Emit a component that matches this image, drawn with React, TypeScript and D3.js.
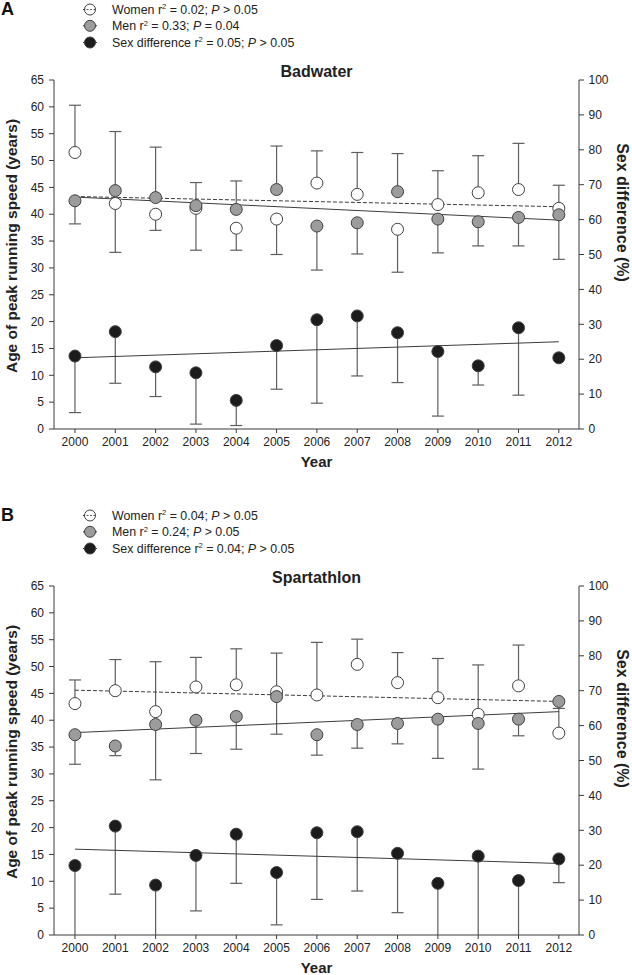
import React from "react";
import * as d3 from "d3";

const years = [2000, 2001, 2002, 2003, 2004, 2005, 2006, 2007, 2008, 2009, 2010, 2011, 2012];
const leftTicks = d3.range(0, 66, 5);
const rightTicks = d3.range(0, 101, 10);

// Badwater
const badwaterWomen = [51.5, 42.0, 40.0, 41.1, 37.4, 39.1, 45.8, 43.7, 37.2, 41.8, 44.0, 44.6, 41.1];
const badwaterWomenSD = [8.8, -9.1, -3.0, -7.8, -4.1, -6.6, 6.0, 7.8, -8.0, 6.3, 6.9, 8.6, 4.3];
const badwaterMen = [42.5, 44.4, 43.1, 41.6, 40.9, 44.6, 37.8, 38.4, 44.2, 39.1, 38.6, 39.4, 39.9];
const badwaterMenSD = [-4.3, 11.0, 9.4, 4.3, 5.3, 8.1, -8.2, -5.8, 7.1, -6.3, -4.5, -5.3, -8.3];
const badwaterDiff = [20.9, 27.9, 17.8, 16.1, 8.2, 23.9, 31.3, 32.4, 27.6, 22.2, 18.1, 29.0, 20.4];
const badwaterDiffSD = [-16.2, -14.8, -8.5, -14.7, -7.2, -12.5, -23.9, -17.2, -14.3, -18.5, -5.5, -19.3, 0];
const badwaterWomenTrend = [43.3, 41.4];
const badwaterMenTrend = [43.2, 38.9];
const badwaterDiffTrend = [20.4, 25.0];

// Spartathlon
const spartaWomen = [43.1, 45.5, 41.6, 46.2, 46.6, 45.3, 44.7, 50.4, 47.0, 44.2, 41.1, 46.4, 37.6];
const spartaWomenSD = [4.4, 5.8, 9.3, 5.5, 6.7, 7.2, 9.8, 4.7, 5.6, 7.3, 9.2, 7.6, 4.6];
const spartaMen = [37.3, 35.2, 39.2, 40.0, 40.7, 44.4, 37.3, 39.2, 39.4, 40.2, 39.4, 40.2, 43.5];
const spartaMenSD = [-5.5, -1.8, -10.3, -6.2, -6.1, -7.0, -3.8, -4.4, -3.8, -7.3, -8.5, -3.1, 0];
const spartaDiff = [19.9, 31.2, 14.3, 22.8, 28.9, 17.9, 29.3, 29.6, 23.4, 14.8, 22.6, 15.6, 21.8];
const spartaDiffSD = [-21.0, -19.5, -16.0, -15.9, -14.1, -15.0, -19.1, -17.0, -17.0, -16.0, -24.0, -17.0, -6.8];
const spartaWomenTrend = [45.6, 43.5];
const spartaMenTrend = [37.7, 41.6];
const spartaDiffTrend = [24.6, 20.5];

const FONT = "'Liberation Sans', Arial, Helvetica, sans-serif";
const AXIS = "#3a3a3a";
const BAR = "#5e5e5e";
const MEN_FILL = "#9c9c9c";
const DIFF_FILL = "#1c1c1c";

type PanelProps = {
  top: number;
  letter: string;
  title: string;
  legend: string[][];
  women: number[]; womenSD: number[];
  men: number[]; menSD: number[];
  diff: number[]; diffSD: number[];
  womenTrend: number[]; menTrend: number[]; diffTrend: number[];
};

const X0 = 54;
const X1 = 579;
const PH = 349;

function Panel(p: PanelProps) {
  const y0 = p.top + PH;
  const x = d3.scaleLinear().domain([1999.48, 2012.5]).range([X0, X1]);
  const yL = d3.scaleLinear().domain([0, 65]).range([y0, p.top]);
  const yR = d3.scaleLinear().domain([0, 100]).range([y0, p.top]);
  const r = 6;
  const cap = 6;

  const bars = (vals: number[], sds: number[], y: d3.ScaleLinear<number, number>, key: string) =>
    vals.map((v, i) => {
      const sd = sds[i];
      if (!sd) return null;
      let end = v + sd;
      let clipped = false;
      if (end < 0) { end = 0; clipped = true; }
      const xi = x(years[i]);
      return (
        <g key={key + i}>
          <line x1={xi} x2={xi} y1={y(v)} y2={y(end)} stroke={BAR} strokeWidth={1.2} />
          {!clipped && <line x1={xi - cap} x2={xi + cap} y1={y(end)} y2={y(end)} stroke={BAR} strokeWidth={1.2} />}
        </g>
      );
    });

  const trend = (t: number[], y: d3.ScaleLinear<number, number>, dashed: boolean) => {
    const line = d3.line<[number, number]>().x((d) => x(d[0])).y((d) => y(d[1]));
    return (
      <path
        d={line([[years[0], t[0]], [years[years.length - 1], t[1]]]) || ""}
        fill="none"
        stroke="#3c3c3c"
        strokeWidth={1}
        strokeDasharray={dashed ? "4,2" : undefined}
      />
    );
  };

  const dots = (vals: number[], y: d3.ScaleLinear<number, number>, fill: string, key: string) =>
    vals.map((v, i) => (
      <circle key={key + i} cx={x(years[i])} cy={y(v)} r={r} fill={fill} stroke="#404040" strokeWidth={1} />
    ));

  const legTop = p.top - 70.5;
  const legendRows = [
    { fill: "#ffffff", dashed: true },
    { fill: MEN_FILL, dashed: false },
    { fill: DIFF_FILL, dashed: false },
  ];
  const legY = [legTop, legTop + 16.3, legTop + 33];

  return (
    <g>
      <text x={1} y={legTop + 5.5} fontFamily={FONT} fontWeight="bold" fontSize={18} fill="#111">{p.letter}</text>
      {legendRows.map((row, i) => (
        <g key={"leg" + i}>
          <line x1={83} x2={97} y1={legY[i]} y2={legY[i]} stroke="#333" strokeWidth={1} strokeDasharray={row.dashed ? "2,1.5" : undefined} />
          <circle cx={90} cy={legY[i]} r={5.5} fill={row.fill} stroke="#404040" strokeWidth={1} />
          {row.dashed && <line x1={83} x2={97} y1={legY[i]} y2={legY[i]} stroke="#333" strokeWidth={0.8} strokeDasharray="2,1.5" />}
          <text x={112} y={legY[i] + 4.4} fontFamily={FONT} fontSize={12.4} fill="#222">
            {p.legend[i][0]} r<tspan fontSize={7.5} dy={-4.5}>2</tspan>
            <tspan dy={4.5}>{" = " + p.legend[i][1] + "; "}</tspan>
            <tspan fontStyle="italic">P</tspan>
            <tspan>{" " + p.legend[i][2]}</tspan>
          </text>
        </g>
      ))}
      <text x={(X0 + X1) / 2} y={p.top - 3.5} textAnchor="middle" fontFamily={FONT} fontWeight="bold" fontSize={16} fill="#222">{p.title}</text>

      <line x1={X0} x2={X0} y1={p.top} y2={y0} stroke={AXIS} strokeWidth={1} />
      <line x1={X1} x2={X1} y1={p.top} y2={y0} stroke={AXIS} strokeWidth={1} />
      <line x1={X0} x2={X1} y1={y0} y2={y0} stroke={AXIS} strokeWidth={1} />
      {leftTicks.map((t) => (
        <g key={"lt" + t}>
          <line x1={X0 - 5} x2={X0} y1={yL(t)} y2={yL(t)} stroke={AXIS} />
          <text x={44} y={yL(t) + 4.2} textAnchor="end" fontFamily={FONT} fontSize={12} fill="#222">{t}</text>
        </g>
      ))}
      {rightTicks.map((t) => (
        <g key={"rt" + t}>
          <line x1={X1} x2={X1 + 5} y1={yR(t)} y2={yR(t)} stroke={AXIS} />
          <text x={588.5} y={yR(t) + 4.2} fontFamily={FONT} fontSize={12} fill="#222">{t}</text>
        </g>
      ))}
      {years.map((yr) => (
        <g key={"xt" + yr}>
          <line x1={x(yr)} x2={x(yr)} y1={y0} y2={y0 + 4} stroke={AXIS} />
          <text x={x(yr)} y={y0 + 17} textAnchor="middle" fontFamily={FONT} fontSize={12} fill="#222">{yr}</text>
        </g>
      ))}
      <text x={(X0 + X1) / 2} y={y0 + 37.7} textAnchor="middle" fontFamily={FONT} fontWeight="bold" fontSize={15} fill="#222">Year</text>
      <text transform={`translate(17,${p.top + 166}) rotate(-90)`} textAnchor="middle" fontFamily={FONT} fontWeight="bold" fontSize={15.5} fill="#222">Age of peak running speed (years)</text>
      <text transform={`translate(617,${p.top + 132.5}) rotate(90)`} textAnchor="middle" fontFamily={FONT} fontWeight="bold" fontSize={16} fill="#222">Sex difference (%)</text>

      {bars(p.women, p.womenSD, yL, "wb")}
      {bars(p.men, p.menSD, yL, "mb")}
      {bars(p.diff, p.diffSD, yR, "db")}
      {trend(p.womenTrend, yL, true)}
      {trend(p.menTrend, yL, false)}
      {trend(p.diffTrend, yR, false)}
      {dots(p.women, yL, "#ffffff", "wd")}
      {dots(p.men, yL, MEN_FILL, "md")}
      {dots(p.diff, yR, DIFF_FILL, "dd")}
    </g>
  );
}

export default function App() {
  return (
    <svg width={632} height={975} style={{ position: "absolute", left: 0, top: 0, background: "#fff" }}>
      <rect x={0} y={0} width={632} height={975} fill="#fff" />
      <Panel
        top={80}
        letter="A"
        title="Badwater"
        legend={[["Women", "0.02", "> 0.05"], ["Men", "0.33", "= 0.04"], ["Sex difference", "0.05", "> 0.05"]]}
        women={badwaterWomen} womenSD={badwaterWomenSD}
        men={badwaterMen} menSD={badwaterMenSD}
        diff={badwaterDiff} diffSD={badwaterDiffSD}
        womenTrend={badwaterWomenTrend} menTrend={badwaterMenTrend} diffTrend={badwaterDiffTrend}
      />
      <Panel
        top={586}
        letter="B"
        title="Spartathlon"
        legend={[["Women", "0.04", "> 0.05"], ["Men", "0.24", "> 0.05"], ["Sex difference", "0.04", "> 0.05"]]}
        women={spartaWomen} womenSD={spartaWomenSD}
        men={spartaMen} menSD={spartaMenSD}
        diff={spartaDiff} diffSD={spartaDiffSD}
        womenTrend={spartaWomenTrend} menTrend={spartaMenTrend} diffTrend={spartaDiffTrend}
      />
    </svg>
  );
}
